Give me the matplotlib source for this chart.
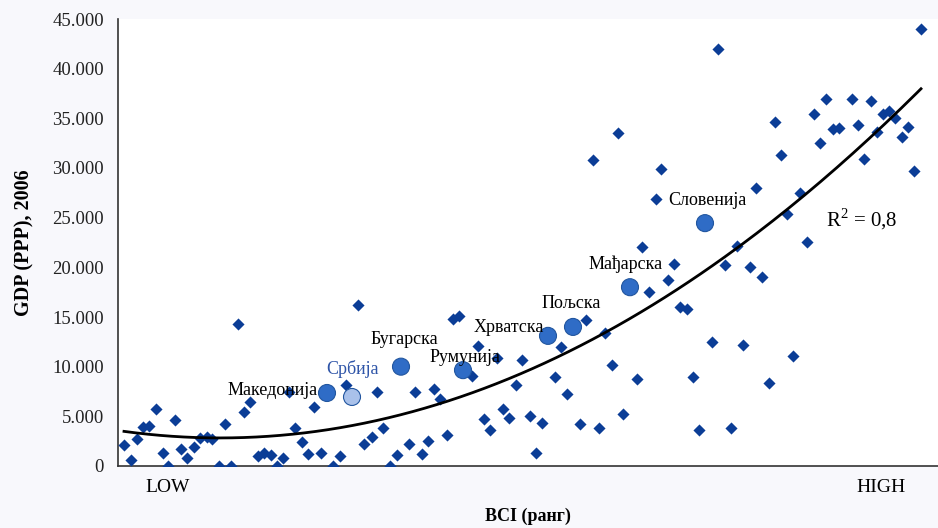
import numpy as np
import matplotlib
matplotlib.use('Agg')
from matplotlib import pyplot as plt
from matplotlib.ticker import FuncFormatter

plt.rcParams['font.family'] = ['Liberation Serif', 'DejaVu Serif']
plt.rcParams['mathtext.fontset'] = 'custom'
plt.rcParams['mathtext.rm'] = 'Liberation Serif'

# BCI position (low -> high) and GDP per capita (PPP), 2006
bci = [6, 13, 19, 25, 31, 38, 45, 50, 57, 63, 69, 76, 82, 89, 94, 101, 107, 113,
       120, 126, 132, 140, 146, 153, 159, 165, 171, 177, 184, 190, 196, 203, 215,
       222, 228, 240, 246, 254, 259, 265, 272, 279, 291, 297, 304, 310, 316, 322,
       329, 335, 341, 354, 360, 366, 372, 379, 385, 391, 398, 404, 412, 418, 424,
       437, 443, 449, 462, 468, 475, 481, 487, 494, 500, 505, 519, 524, 531, 538,
       543, 550, 556, 562, 569, 575, 581, 594, 600, 607, 613, 619, 625, 632, 638,
       644, 651, 657, 663, 669, 675, 682, 689, 696, 702, 708, 715, 721, 734, 740,
       746, 753, 759, 765, 771, 777, 784, 790, 796, 803]
gdp = [2100, 600, 2700, 3900, 4000, 5700, 1300, 0, 4600, 1700, 800, 1900, 2800,
       2900, 2700, 0, 4200, 0, 14300, 5400, 6400, 1000, 1300, 1100, 0, 800, 7500,
       3800, 2400, 1200, 5900, 1300, 0, 1000, 8200, 16200, 2200, 2900, 7400, 3800,
       0, 1100, 2200, 7400, 1200, 2500, 7800, 6700, 3100, 14800, 15100, 9100,
       12100, 4700, 3600, 10900, 5700, 4800, 8200, 10700, 5000, 1300, 4300, 9000,
       12000, 7200, 4200, 14700, 30800, 3800, 13400, 10200, 33500, 5200, 8800,
       22000, 17500, 26900, 29900, 18700, 20300, 16000, 15800, 9000, 3600, 12500,
       42000, 20200, 3800, 22100, 12200, 20000, 28000, 19000, 8350, 34600, 31300,
       25400, 11100, 27500, 22600, 35400, 32500, 36900, 33900, 34000, 36900, 34300,
       30900, 36700, 33600, 35400, 35700, 35000, 33100, 34100, 29700, 44000]

# highlighted countries
countries = ['Македонија', 'Србија', 'Бугарска', 'Румунија',
             'Хрватска', 'Пољска', 'Мађарска', 'Словенија']
c_bci = [209, 234, 283, 345, 430, 455, 512, 587]
c_gdp = [7350, 6950, 10000, 9650, 13100, 14000, 18000, 24450]

bci_all = np.array(bci + c_bci, dtype=float)
gdp_all = np.array(gdp + c_gdp, dtype=float)
coef = np.polyfit(bci_all, gdp_all, 2)
xs = np.linspace(6, 803, 200)

fig = plt.figure(figsize=(9.38, 5.28), dpi=100, facecolor='#f8f8fc')
ax = fig.add_axes([118/938, 62/528, 820/938, 447/528])
ax.set_facecolor('white')

ax.scatter(bci, gdp, marker='D', s=38, color='#0b3d96', zorder=3, linewidths=0)
ax.plot(xs, np.polyval(coef, xs), color='black', lw=2.0, zorder=4)

fills = ['#2f6cc6'] * len(countries)
fills[1] = '#a9c1ea'
ax.scatter(c_bci, c_gdp, marker='o', s=150, c=fills, edgecolors='#22569f',
           linewidths=0.8, zorder=5)

offsets = {'Македонија': (-9, 2, 'right'), 'Србија': (0, 28, 'center'),
           'Бугарска': (3, 27, 'center'), 'Румунија': (2, 13, 'center'),
           'Хрватска': (-39, 8, 'center'), 'Пољска': (-2, 23, 'center'),
           'Мађарска': (-4, 23, 'center'), 'Словенија': (2, 23, 'center')}
for name, xv, yv in zip(countries, c_bci, c_gdp):
    dx, dy, ha = offsets[name]
    col = '#2f55a8' if name == 'Србија' else 'black'
    ax.annotate(name, (xv, yv), xytext=(dx, dy), textcoords='offset pixels',
                ha=ha, va='center', fontsize=13, color=col, zorder=6)

ax.text(744, 24800, r'R$^{2}$ = 0,8', fontsize=15, ha='center', va='center')

ax.set_xlim(0, 820)
ax.set_ylim(0, 45000)
ax.set_yticks(np.arange(0, 45001, 5000))
ax.yaxis.set_major_formatter(FuncFormatter(lambda v, p: f'{int(v):,}'.replace(',', '.')))
ax.set_xticks([50, 763])
ax.set_xticklabels(['LOW', 'HIGH'])
ax.tick_params(axis='y', length=0, pad=10, labelsize=13.5, colors='#222222')
ax.tick_params(axis='x', length=0, pad=9, labelsize=14)
for side in ['top', 'right']:
    ax.spines[side].set_visible(False)
ax.spines['left'].set_color('#333333')
ax.spines['bottom'].set_color('#333333')
ax.spines['left'].set_linewidth(1.2)
ax.spines['bottom'].set_linewidth(1.2)

ax.set_xlabel('BCI (ранг)', fontsize=13, fontweight='bold', labelpad=9)
ax.set_ylabel('GDP (PPP), 2006', fontsize=14.5, fontweight='bold', labelpad=13)

fig.savefig('out.png', dpi=100, facecolor=fig.get_facecolor())
